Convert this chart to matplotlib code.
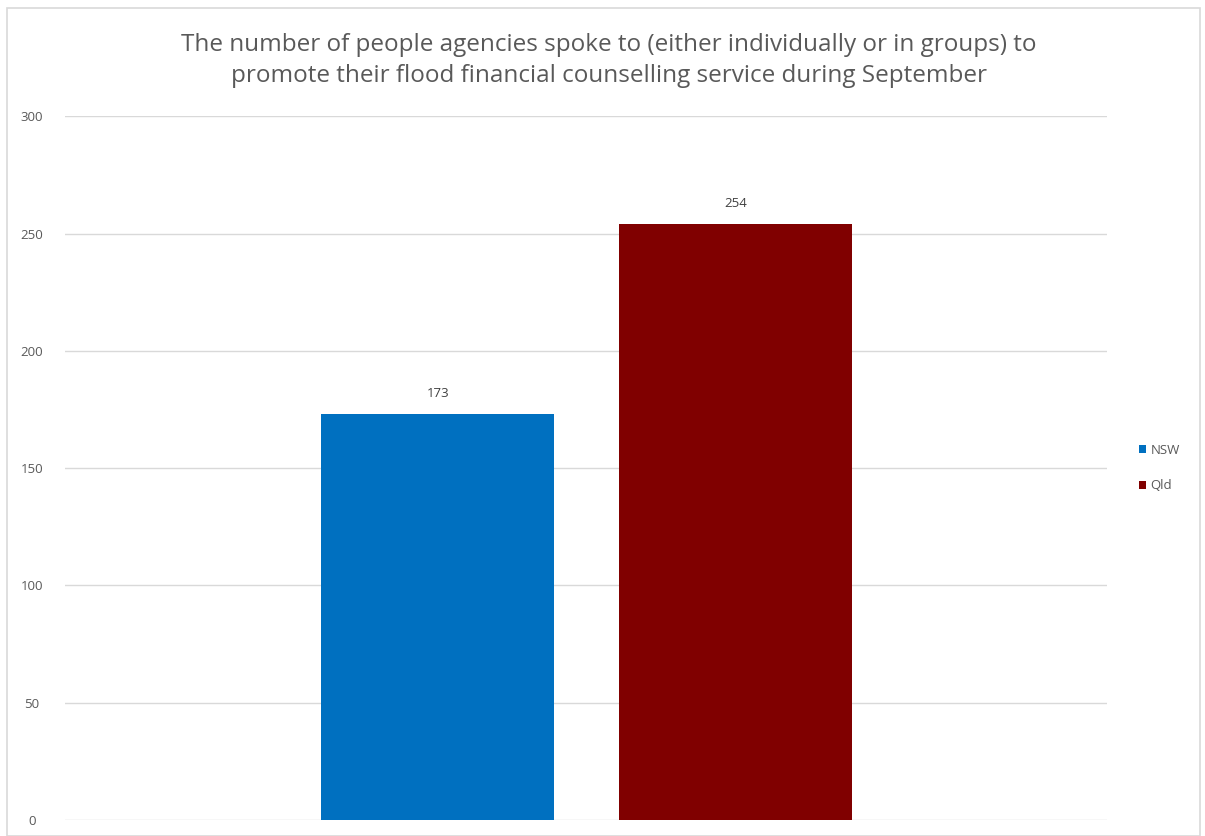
import matplotlib.pyplot as plt
from matplotlib.patches import Rectangle

series = ['NSW', 'Qld']
values = [173, 254]
colors = ['#0070C0', '#800000']
yticks = [0, 50, 100, 150, 200, 250, 300]

title = ('The number of people agencies spoke to (either individually or in groups) to\n'
         'promote their flood financial counselling service during September')

plt.rcParams['font.family'] = ['Open Sans', 'DejaVu Sans']

fig = plt.figure(figsize=(12.05, 8.36), dpi=100)
fig.patches.append(Rectangle((0.006, 0.0), 0.99, 0.99, transform=fig.transFigure,
                             fill=False, edgecolor='#D9D9D9', linewidth=1.2))

ax = fig.add_axes([0.054, 0.019, 0.865, 0.842])

offsets = [0, 1]
bars = []
for i, (name, val, col) in enumerate(zip(series, values, colors)):
    b = ax.bar(offsets[i], val, width=0.783, color=col, label=name, zorder=3)
    bars.append(b)
    ax.text(offsets[i], val + 6, str(val), ha='center', va='bottom',
            fontsize=9.5, color='#404040')

ax.set_xlim(-1.252, 2.25)
ax.set_ylim(0, 300)
ax.set_yticks(yticks)
ax.set_xticks([])
ax.grid(axis='y', color='#D9D9D9', linewidth=1, zorder=0)
for s in ax.spines.values():
    s.set_visible(False)
ax.tick_params(axis='y', length=0, labelsize=9.5, labelcolor='#595959')
for lbl in ax.get_yticklabels():
    lbl.set_horizontalalignment('center')
ax.tick_params(axis='y', pad=24)

fig.text(0.505, 0.895, title, ha='center', va='bottom', fontsize=17.5,
         color='#595959', linespacing=1.35)

fig.legend(handles=[b[0] for b in bars], labels=series, loc='center left',
           bbox_to_anchor=(0.935, 0.44), frameon=False, fontsize=9.5,
           handlelength=0.6, handleheight=0.6, handletextpad=0.3,
           labelspacing=1.7, labelcolor='#595959')

fig.savefig('out.png', dpi=100)
